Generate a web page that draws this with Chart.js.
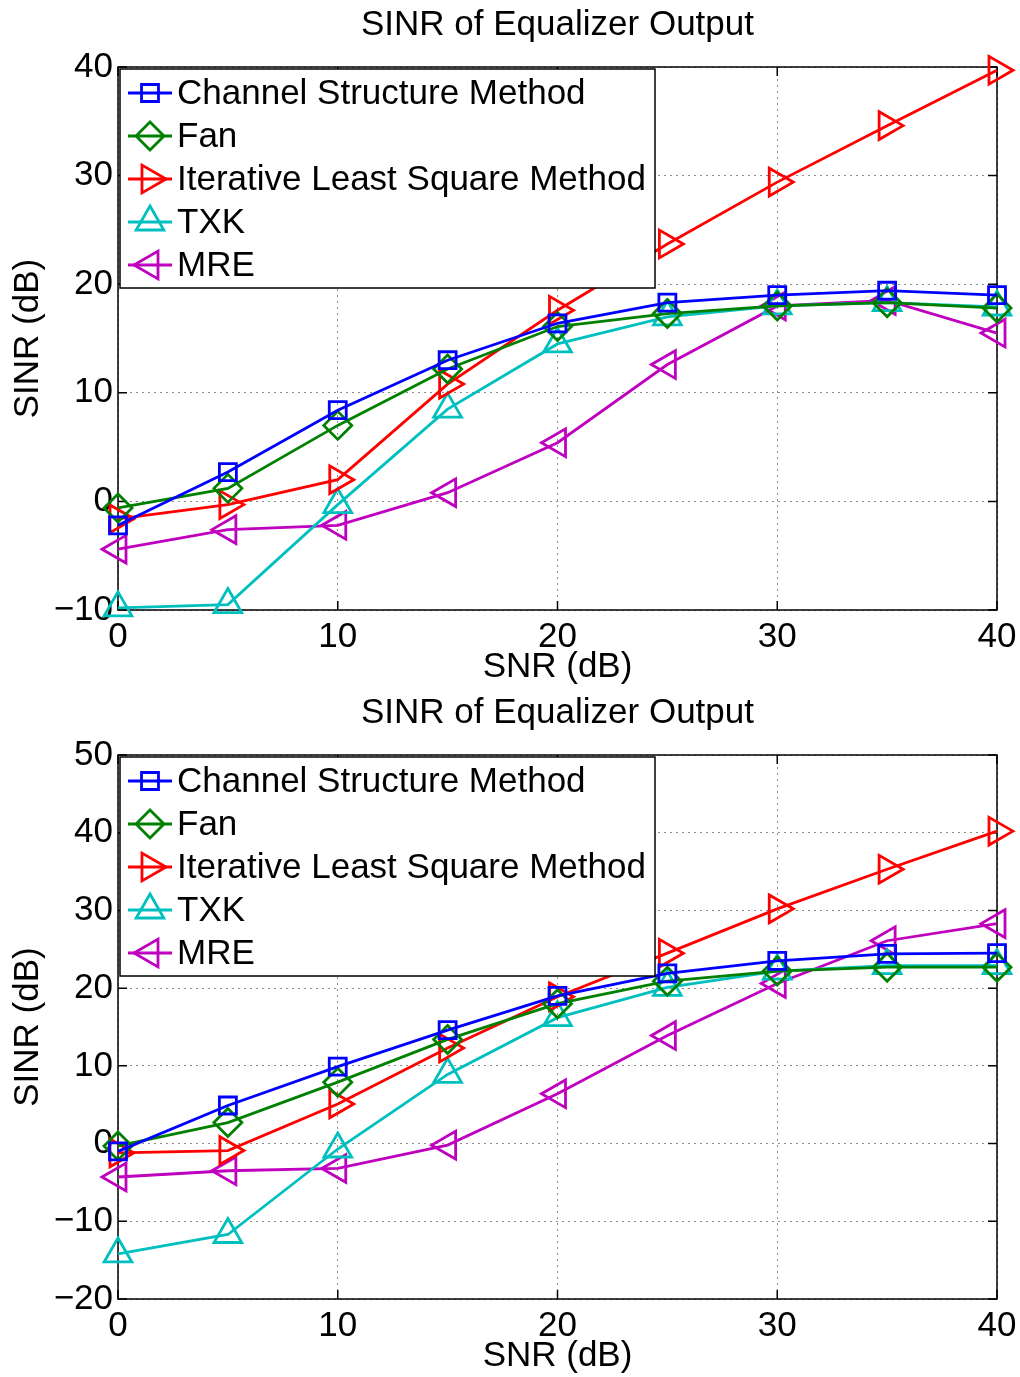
<!DOCTYPE html>
<html>
<head>
<meta charset="utf-8">
<title>SINR of Equalizer Output</title>
<script src="https://cdn.jsdelivr.net/npm/chart.js@4.4.1/dist/chart.umd.min.js"></script>
<style>
  html, body { margin: 0; padding: 0; background: #fff; }
  canvas { display: block; }
</style>
</head>
<body>
<canvas id="chartTop" width="1020" height="688"></canvas>
<canvas id="chartBottom" width="1020" height="689"></canvas>
<script>
// SNR points (x axis)
const snr = [0, 5, 10, 15, 20, 25, 30, 35, 40];
const xTicks = [0, 10, 20, 30, 40];

const seriesNames = ['Channel Structure Method', 'Fan', 'Iterative Least Square Method', 'TXK', 'MRE'];

// upper plot
const csmTop = [-2.2, 2.7, 8.4, 13.0, 16.4, 18.3, 19.0, 19.4, 19.0];
const fanTop = [-0.6, 1.2, 7.0, 12.2, 16.1, 17.3, 18.0, 18.3, 17.8];
const ilsTop = [-1.6, -0.3, 2.0, 10.8, 17.6, 23.7, 29.4, 34.6, 39.7];
const txkTop = [-9.8, -9.5, -0.3, 8.5, 14.5, 17.0, 18.0, 18.3, 17.9];
const mreTop = [-4.4, -2.6, -2.2, 0.8, 5.4, 12.6, 18.0, 18.5, 15.5];
const yTicksTop = [-10, 0, 10, 20, 30, 40];

// lower plot
const csmBot = [-1.0, 4.9, 9.9, 14.6, 19.0, 21.9, 23.5, 24.4, 24.5];
const fanBot = [-0.3, 2.7, 7.9, 13.4, 18.0, 20.9, 22.2, 22.7, 22.7];
const ilsBot = [-1.2, -0.9, 5.1, 12.3, 18.9, 24.5, 30.2, 35.3, 40.2];
const txkBot = [-14.2, -11.7, -0.7, 8.9, 16.2, 20.1, 22.2, 22.9, 22.9];
const mreBot = [-4.3, -3.5, -3.2, -0.2, 6.4, 13.9, 20.6, 26.1, 28.3];
const yTicksBot = [-20, -10, 0, 10, 20, 30, 40, 50];

const FONT = "'Liberation Sans', Arial, Helvetica, sans-serif";
const FSIZE = 35;

// matlab-ish line styles, one per series
const styles = [
  { color: '#0000ff', pointStyle: 'rect', rotation: 0, radius: 12 },
  { color: '#008000', pointStyle: 'rectRot', rotation: 0, radius: 14 },
  { color: '#ff0000', pointStyle: 'triangle', rotation: 90, radius: 16 },
  { color: '#00bfbf', pointStyle: 'triangle', rotation: 0, radius: 16 },
  { color: '#bf00bf', pointStyle: 'triangle', rotation: -90, radius: 16 }
];

function minusSign(v) {
  return String(v).replace('-', '\u2212');
}

// box around axes, inward ticks, and a legend sitting inside the plot
const matlabAxes = {
  id: 'matlabAxes',
  beforeDatasetsDraw(chart) {
    const { ctx, chartArea: a, scales } = chart;
    ctx.save();
    ctx.strokeStyle = '#000';
    ctx.lineWidth = 1.5;
    ctx.strokeRect(a.left, a.top, a.right - a.left, a.bottom - a.top);
    const t = 9;
    ctx.beginPath();
    scales.x.ticks.forEach(tk => {
      const px = scales.x.getPixelForValue(tk.value);
      ctx.moveTo(px, a.bottom); ctx.lineTo(px, a.bottom - t);
      ctx.moveTo(px, a.top); ctx.lineTo(px, a.top + t);
    });
    scales.y.ticks.forEach(tk => {
      const py = scales.y.getPixelForValue(tk.value);
      ctx.moveTo(a.left, py); ctx.lineTo(a.left + t, py);
      ctx.moveTo(a.right, py); ctx.lineTo(a.right - t, py);
    });
    ctx.stroke();
    ctx.restore();
  },
  afterDatasetsDraw(chart) {
    const { ctx, chartArea: a } = chart;
    const boxL = a.left + 2, boxT = a.top + 2, boxW = 535, boxH = 219;
    ctx.save();
    ctx.fillStyle = '#fff';
    ctx.fillRect(boxL, boxT, boxW, boxH);
    ctx.strokeStyle = '#000';
    ctx.lineWidth = 1.5;
    ctx.strokeRect(boxL, boxT, boxW, boxH);
    ctx.font = FSIZE + 'px ' + FONT;
    ctx.textBaseline = 'middle';
    chart.data.datasets.forEach((ds, i) => {
      const yy = boxT + 24 + i * 43;
      ctx.strokeStyle = ds.borderColor;
      ctx.lineWidth = 2.8;
      ctx.beginPath();
      ctx.moveTo(boxL + 8, yy);
      ctx.lineTo(boxL + 52, yy);
      ctx.stroke();
      ctx.fillStyle = 'rgba(0,0,0,0)';
      Chart.helpers.drawPoint(ctx, {
        pointStyle: ds.pointStyle,
        rotation: ds.pointRotation,
        radius: ds.pointRadius,
        borderWidth: 2.8
      }, boxL + 30, yy);
      ctx.fillStyle = '#000';
      ctx.fillText(ds.label, boxL + 57, yy + 1);
    });
    ctx.restore();
  }
};

function makeChart(id, series, yTicks) {
  const datasets = series.map((vals, i) => ({
    label: seriesNames[i],
    data: snr.map((s, k) => ({ x: s, y: vals[k] })),
    borderColor: styles[i].color,
    backgroundColor: 'rgba(0,0,0,0)',
    borderWidth: 2.8,
    pointStyle: styles[i].pointStyle,
    pointRotation: styles[i].rotation,
    pointRadius: styles[i].radius,
    pointBorderWidth: 2.8,
    pointBorderColor: styles[i].color,
    pointBackgroundColor: 'rgba(0,0,0,0)',
    tension: 0,
    clip: false
  }));

  return new Chart(document.getElementById(id), {
    type: 'line',
    data: { datasets },
    options: {
      responsive: false,
      animation: false,
      events: [],
      layout: { padding: { left: 0, right: 23, top: 0, bottom: 0 } },
      plugins: {
        legend: { display: false },
        tooltip: { enabled: false },
        title: {
          display: true,
          fullSize: false,
          text: 'SINR of Equalizer Output',
          color: '#000',
          font: { family: FONT, size: FSIZE, weight: 'normal' },
          padding: { top: 4, bottom: 21 }
        }
      },
      scales: {
        x: {
          type: 'linear',
          min: xTicks[0],
          max: xTicks[xTicks.length - 1],
          afterBuildTicks: s => { s.ticks = xTicks.map(v => ({ value: v })); },
          ticks: { color: '#000', font: { family: FONT, size: FSIZE }, padding: 6, maxRotation: 0, callback: minusSign },
          grid: { color: '#8c8c8c', lineWidth: 1, drawTicks: false },
          border: { display: false, dash: [2, 4] },
          title: { display: true, text: 'SNR (dB)', color: '#000', font: { family: FONT, size: FSIZE }, padding: { top: 0, bottom: 0 } },
          afterFit: s => { s.height = 78; s.paddingLeft = 0; s.paddingRight = 0; }
        },
        y: {
          min: yTicks[0],
          max: yTicks[yTicks.length - 1],
          afterBuildTicks: s => { s.ticks = yTicks.map(v => ({ value: v })); },
          ticks: { color: '#000', font: { family: FONT, size: FSIZE }, padding: 5, callback: minusSign },
          grid: { color: '#8c8c8c', lineWidth: 1, drawTicks: false },
          border: { display: false, dash: [2, 4] },
          title: { display: true, text: 'SINR (dB)', color: '#000', font: { family: FONT, size: FSIZE }, padding: { top: 7, bottom: 0 } },
          afterFit: s => { s.width = 118; s.paddingTop = 0; s.paddingBottom = 0; }
        }
      }
    },
    plugins: [matlabAxes]
  });
}

makeChart('chartTop', [csmTop, fanTop, ilsTop, txkTop, mreTop], yTicksTop);
makeChart('chartBottom', [csmBot, fanBot, ilsBot, txkBot, mreBot], yTicksBot);
</script>
</body>
</html>
